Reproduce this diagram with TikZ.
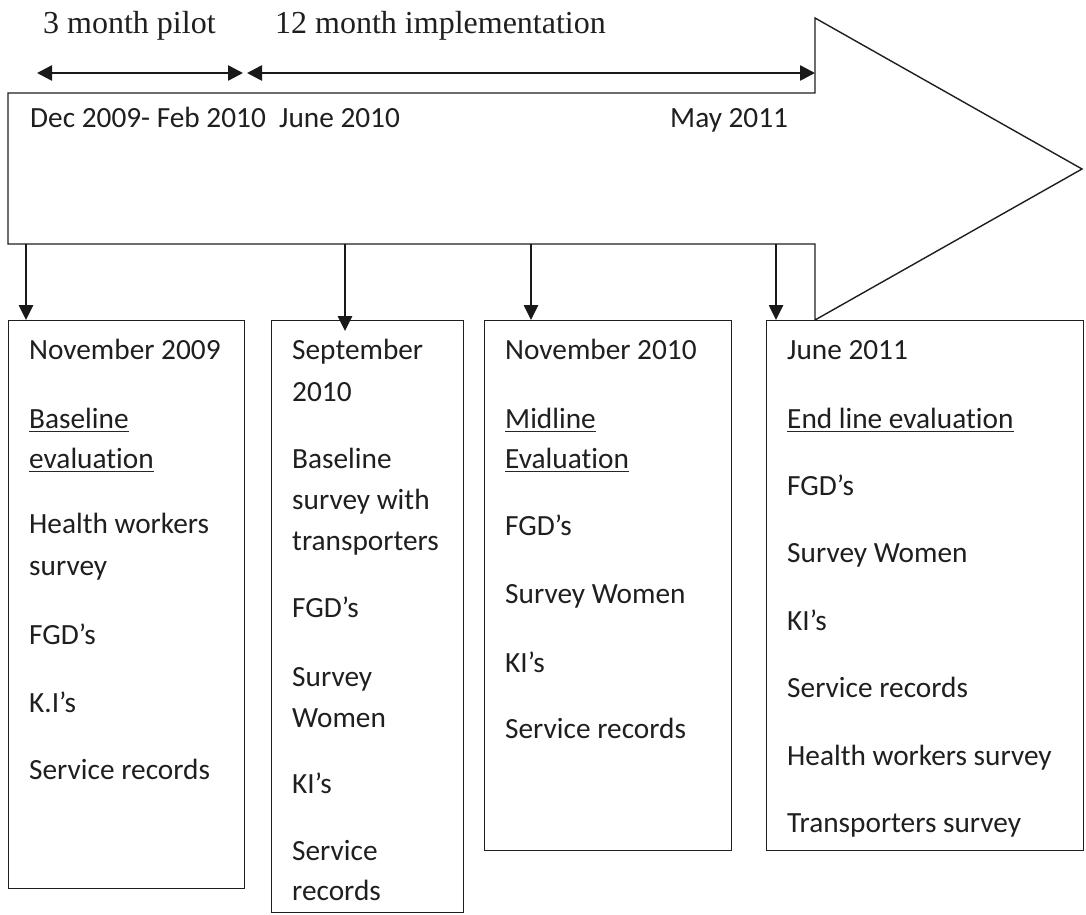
\documentclass[tikz,border=0pt]{standalone}
\usepackage{fontspec}
\setmainfont{Carlito}[Ligatures=NoCommon]
\newfontfamily\serifface{Liberation Serif}
\usetikzlibrary{arrows.meta}
\begin{document}
\begin{tikzpicture}[x=1pt,y=-1pt,
  ink/.style={draw=black!88, line width=1.4pt},
  conn/.style={draw=black!90, line width=2.6pt, -{Triangle[length=15pt,width=14pt]}},
  span/.style={draw=black!90, line width=2.6pt,
    {Triangle[length=15pt,width=15pt]}-{Triangle[length=15pt,width=15pt]}},
  txt/.style={inner sep=0pt, anchor=base west, text=black!88,
    font=\fontsize{29.3}{35}\selectfont},
  head/.style={inner sep=0pt, anchor=base west, text=black!88,
    font=\serifface\fontsize{32}{38}\selectfont},
  ul/.style={draw=black!85, line width=1.7pt},
  panel/.style={ink, inner sep=0pt, anchor=north west}
]
\useasboundingbox (0,0) rectangle (1086,914);
\fill[white] (0,0) rectangle (1086,914);

% timeline block arrow
\draw[ink] (8,93) -- (815,93) -- (815,18) -- (1082,169) -- (815,320)
  -- (815,244) -- (8,244) -- cycle;

% period spans above the timeline
\node[head] (pilot) at (43,33) {3 month pilot};
\node[head] (impl) at (275,33) {12 month implementation};
\coordinate (s0) at (37,73);
\coordinate (s1) at (243,73);
\coordinate (s2) at (247,73);
\coordinate (s3) at (815,73);
\draw[span] (s0) -- (s1);
\draw[span] (s2) -- (s3);

% dates on the timeline
\node[txt] (dec) at (30,127) {Dec 2009- Feb 2010};
\node[txt] (jun) at (279,127) {June 2010};
\node[txt] (may) at (670,127) {May 2011};

% evaluation panels
\node[panel, minimum width=236pt, minimum height=568pt] (b1) at (8,320) {};
\node[panel, minimum width=192pt, minimum height=592pt] (b2) at (271,320) {};
\node[panel, minimum width=247pt, minimum height=530pt] (b3) at (484,320) {};
\node[panel, minimum width=317pt, minimum height=530pt] (b4) at (766,320) {};

% connectors from the timeline to the panels
\coordinate (d1) at (26,244);
\coordinate (d2) at (345,244);
\coordinate (d3) at (531,244);
\coordinate (d4) at (776,244);
\draw[conn] (d1) -- (d1 |- b1.north);
\draw[conn] (d2) -- ([yshift=-11pt]d2 |- b2.north);
\draw[conn] (d3) -- (d3 |- b3.north);
\draw[conn] (d4) -- (d4 |- b4.north);

% panel 1
\node[txt] (a1) at (29,359) {November 2009};
\node[txt] (a2) at (29,428) {Baseline};
\node[txt] (a3) at (29,468) {evaluation};
\node[txt] (a4) at (29,533) {Health workers};
\node[txt] (a5) at (29,575) {survey};
\node[txt] (a6) at (29,644) {FGD’s};
\node[txt] (a7) at (29,712) {K.I’s};
\node[txt] (a8) at (29,779) {Service records};

% panel 2
\node[txt] (c1) at (292,359) {September};
\node[txt] (c2) at (292,401) {2010};
\node[txt] (c3) at (292,468) {Baseline};
\node[txt] (c4) at (292,509) {survey with};
\node[txt] (c5) at (292,550) {transporters};
\node[txt] (c6) at (292,617) {FGD’s};
\node[txt] (c7) at (292,686) {Survey};
\node[txt] (c8) at (292,727) {Women};
\node[txt] (c9) at (292,793) {KI’s};
\node[txt] (c10) at (292,860) {Service};
\node[txt] (c11) at (292,900) {records};

% panel 3
\node[txt] (e1) at (505,359) {November 2010};
\node[txt] (e2) at (505,428) {Midline};
\node[txt] (e3) at (505,468) {Evaluation};
\node[txt] (e4) at (505,535) {FGD’s};
\node[txt] (e5) at (505,603) {Survey Women};
\node[txt] (e6) at (505,672) {KI’s};
\node[txt] (e7) at (505,738) {Service records};

% panel 4
\node[txt] (f1) at (787,359) {June 2011};
\node[txt] (f2) at (787,428) {End line evaluation};
\node[txt] (f3) at (787,495) {FGD’s};
\node[txt] (f4) at (787,562) {Survey Women};
\node[txt] (f5) at (787,630) {KI’s};
\node[txt] (f6) at (787,697) {Service records};
\node[txt] (f7) at (787,765) {Health workers survey};
\node[txt] (f8) at (787,832) {Transporters survey};

% underlined headings
\foreach \n in {a2,a3,e2,e3,f2}
  \draw[ul] ([yshift=-3.5pt]\n.base west) -- ([yshift=-3.5pt]\n.base east);
\end{tikzpicture}
\end{document}
